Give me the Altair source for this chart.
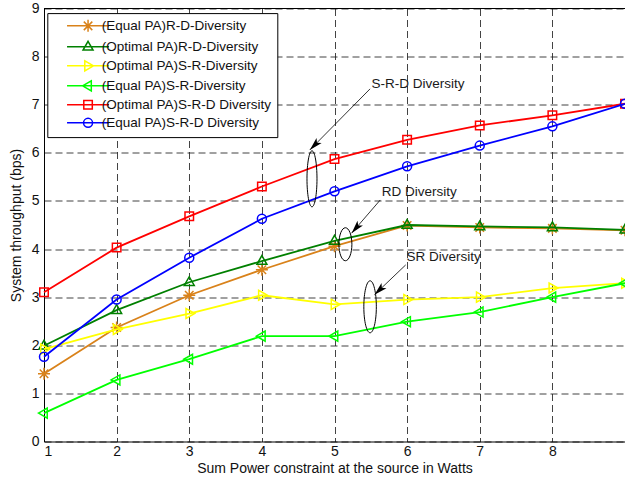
import math
import altair as alt
import pandas as pd

# ---------------- data ----------------
x_vals = [1, 2, 3, 4, 5, 6, 7, 8, 9]
series_names = [
    "(Equal PA)R-D-Diversity",
    "(Optimal PA)R-D-Diversity",
    "(Optimal PA)S-R-Diversity",
    "(Equal PA)S-R-Diversity",
    "(Optimal PA)S-R-D Diversity",
    "(Equal PA)S-R-D Diversity",
]
equal_rd = [1.41, 2.37, 3.04, 3.57, 4.06, 4.49, 4.45, 4.43, 4.39]
optimal_rd = [1.99, 2.73, 3.31, 3.75, 4.17, 4.50, 4.47, 4.45, 4.40]
optimal_sr = [1.92, 2.33, 2.66, 3.04, 2.85, 2.95, 3.00, 3.19, 3.29]
equal_sr = [0.59, 1.28, 1.71, 2.19, 2.19, 2.49, 2.69, 3.00, 3.29]
optimal_srd = [3.10, 4.03, 4.68, 5.30, 5.87, 6.27, 6.57, 6.78, 7.02]
equal_srd = [1.76, 2.95, 3.82, 4.63, 5.20, 5.72, 6.15, 6.55, 7.02]
series_values = [equal_rd, optimal_rd, optimal_sr, equal_sr, optimal_srd, equal_srd]

x_ticks = [1, 2, 3, 4, 5, 6, 7, 8]
y_ticks = [0, 1, 2, 3, 4, 5, 6, 7, 8, 9]

# annotations (data units)
ann_labels = ["S-R-D Diversity", "RD Diversity", "SR Diversity"]
ann_text_x = [5.51, 5.65, 5.99]
ann_text_y = [7.43, 5.19, 3.84]
ann_start_x = [5.49, 5.63, 5.98]
ann_start_y = [7.33, 5.02, 3.67]
ann_tip_x = [4.66, 5.235, 5.55]
ann_tip_y = [6.06, 4.33, 3.05]
ell_x = [4.69, 5.15, 5.49]
ell_y = [5.46, 4.10, 2.80]
ell_h_px = [56, 33, 52]
ell_w_px = [10, 13, 12.5]

# ---------------- style ----------------
colors = ["#D9821A", "#008000", "#FFFF00", "#00FF00", "#FF0000", "#0000FF"]
FONT = "Liberation Sans"
W, H = 581, 433
PX_X = W / 8.0
PX_Y = H / 9.0


def star(cx):
    return (f"M{cx},-1.2L{cx},1.2M{cx-1.2},0L{cx+1.2},0"
            f"M{cx-0.85},-0.85L{cx+0.85},0.85M{cx-0.85},0.85L{cx+0.85},-0.85")


def tri_up(cx):
    return f"M{cx},-1.1L{cx+1},0.65L{cx-1},0.65Z"


def tri_right(cx):
    return f"M{cx+1.1},0L{cx-0.65},-1L{cx-0.65},1Z"


def tri_left(cx):
    return f"M{cx-1.1},0L{cx+0.65},-1L{cx+0.65},1Z"


def square(cx):
    return f"M{cx-0.85},-0.85L{cx+0.85},-0.85L{cx+0.85},0.85L{cx-0.85},0.85Z"


def circle(cx):
    return f"M{cx-0.9},0A0.9,0.9,0,1,0,{cx+0.9},0A0.9,0.9,0,1,0,{cx-0.9},0Z"


marker_fns = [star, tri_up, tri_right, tri_left, square, circle]
legend_paths = ["M1.4,0L9.8,0" + fn(5.6) for fn in marker_fns]

rows = []
for name, vals in zip(series_names, series_values):
    for xv, yv in zip(x_vals, vals):
        rows.append({"series": name, "x": xv, "y": yv})
df = pd.DataFrame(rows)

x_scale = alt.Scale(domain=[1, 9], nice=False, zero=False)
y_scale = alt.Scale(domain=[0, 9], nice=False, zero=False)

x_axis = alt.Axis(values=x_ticks, grid=True, ticks=False, title="Sum Power constraint at the source in Watts",
                  labelPadding=3, titlePadding=3, format="d")
y_axis = alt.Axis(values=y_ticks, grid=True, ticks=False, title="System throughput (bps)",
                  labelPadding=5, titlePadding=8, format="d")

X = alt.X("x:Q", scale=x_scale, axis=x_axis)
Y = alt.Y("y:Q", scale=y_scale, axis=y_axis)

layers = []

# top frame line
layers.append(alt.Chart(pd.DataFrame({"y": [9]})).mark_rule(color="black", strokeWidth=1)
              .encode(y=Y))

for name, col, fn in zip(series_names, colors, marker_fns):
    sub = df[df.series == name]
    base = alt.Chart(sub)
    layers.append(base.mark_line(color=col, strokeWidth=1.8).encode(x=X, y=Y))
    layers.append(base.mark_point(shape=fn(0), size=100, filled=False, color=col, strokeWidth=1.5,
                                  opacity=1).encode(x=X, y=Y))

legend_def = alt.Legend(title=None, orient="none", legendX=3.3, legendY=4.6)

# legend carrier (invisible points)
layers.append(
    alt.Chart(df).mark_point(opacity=0, filled=False, size=100).encode(
        x=X, y=Y,
        color=alt.Color("series:N", scale=alt.Scale(domain=series_names, range=colors),
                        legend=legend_def),
        shape=alt.Shape("series:N", scale=alt.Scale(domain=series_names, range=legend_paths),
                        legend=legend_def),
    )
)

# annotations: ellipses
for ex, ey, eh, ew in zip(ell_x, ell_y, ell_h_px, ell_w_px):
    rx = ew / eh
    k = 0.5523
    path = (f"M0,-1C{rx*k},-1,{rx},{-k},{rx},0C{rx},{k},{rx*k},1,0,1"
            f"C{-rx*k},1,{-rx},{k},{-rx},0C{-rx},{-k},{-rx*k},-1,0,-1Z")
    layers.append(alt.Chart(pd.DataFrame({"x": [ex], "y": [ey]})).mark_point(
        shape=path, size=eh * eh, filled=False, color="black", strokeWidth=1, opacity=1
    ).encode(x=X, y=Y))

# arrows
ann_df = pd.DataFrame({
    "label": ann_labels, "tx": ann_text_x, "ty": ann_text_y,
    "x": ann_start_x, "y": ann_start_y, "x2": ann_tip_x, "y2": ann_tip_y,
})
ann_df["angle"] = [
    (math.degrees(math.atan2((tx - sx) * PX_X, (ty - sy) * PX_Y)) + 360) % 360
    for sx, sy, tx, ty in zip(ann_start_x, ann_start_y, ann_tip_x, ann_tip_y)
]
layers.append(alt.Chart(ann_df).mark_rule(color="black", strokeWidth=0.8).encode(
    x=X, y=Y, x2="x2:Q", y2="y2:Q"))
layers.append(alt.Chart(ann_df).mark_point(
    shape="M0,0L0.6,2.2L0,1.7L-0.6,2.2Z", size=144, filled=True, color="black", opacity=1
).encode(x=alt.X("x2:Q", scale=x_scale, axis=x_axis), y=alt.Y("y2:Q", scale=y_scale, axis=y_axis),
         angle=alt.Angle("angle:Q", scale=None)))
layers.append(alt.Chart(ann_df).mark_text(align="left", baseline="middle", font=FONT, fontSize=13.5,
                                          color="#1a1a1a").encode(
    x=alt.X("tx:Q", scale=x_scale, axis=x_axis), y=alt.Y("ty:Q", scale=y_scale, axis=y_axis), text="label:N"))

chart = alt.layer(*layers).properties(
    width=W, height=H,
    padding={"left": 44, "top": 8.5, "right": 0, "bottom": 39.5},
    autosize=alt.AutoSizeParams(type="none"),
    background="white",
).configure_view(stroke=None).configure_axis(
    labelFont=FONT, labelFontSize=14, labelColor="#111111",
    titleFont=FONT, titleFontSize=14, titleFontWeight="normal", titleColor="#111111",
    domainColor="black", domainWidth=1,
    gridColor="#222222", gridDash=[7, 4], gridWidth=1, gridOpacity=0.85,
).configure_legend(
    fillColor="white", strokeColor="black", strokeWidth=1, padding=6, cornerRadius=0,
    labelFont=FONT, labelFontSize=13.5, labelColor="#111111", labelLimit=400,
    labelOffset=35, symbolSize=100, symbolStrokeWidth=1.5, symbolOpacity=1,
    rowPadding=3,
)

chart.save("out.html", embed_options={"renderer": "svg", "actions": False})
